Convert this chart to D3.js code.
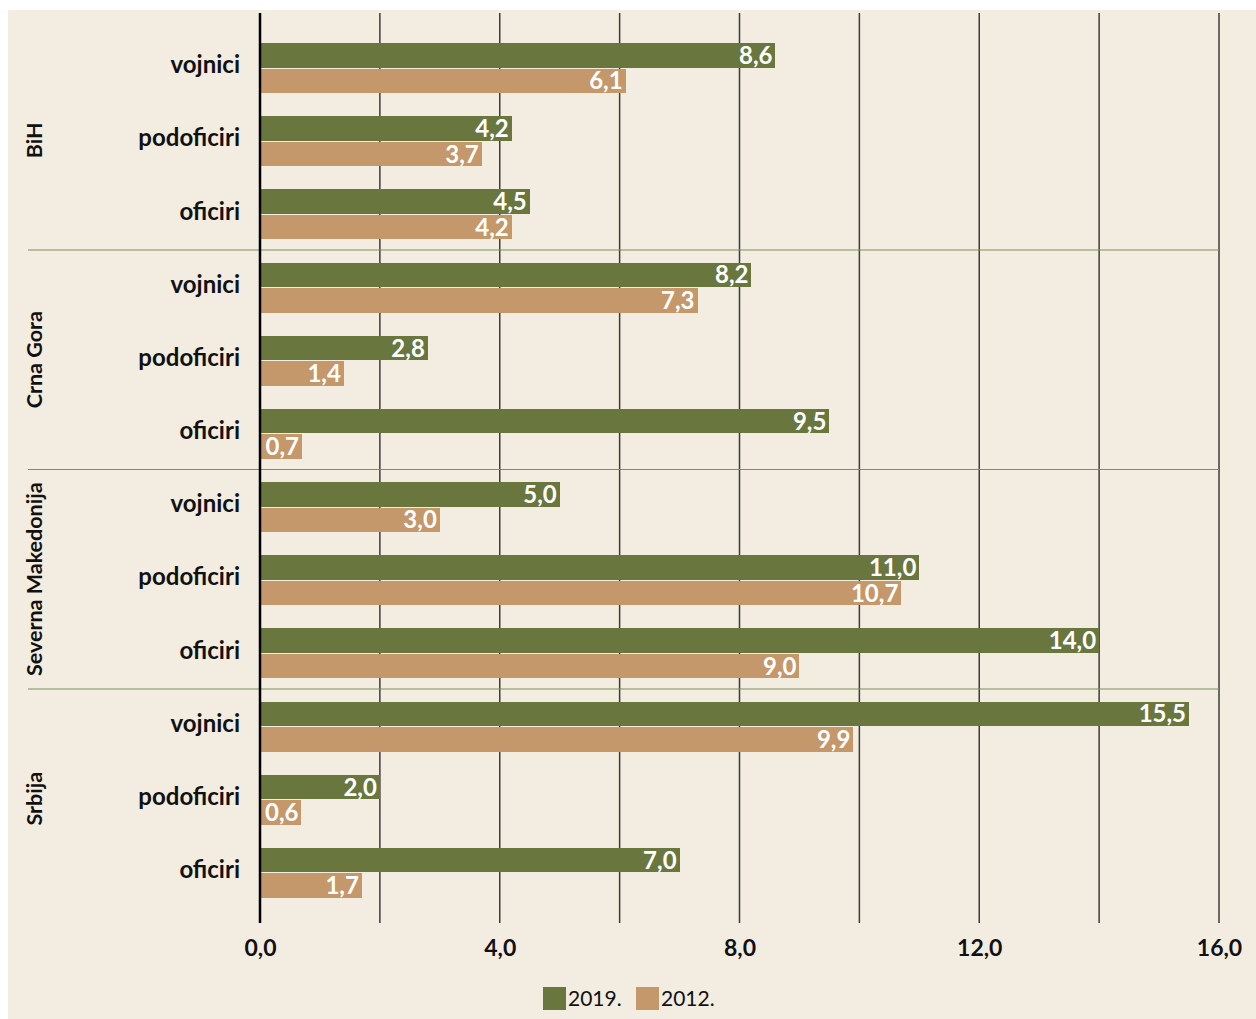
<!DOCTYPE html>
<html>
<head>
<meta charset="utf-8">
<script src="https://cdn.jsdelivr.net/npm/d3@7"></script>
<style>
  html, body { margin: 0; padding: 0; background: #ffffff; }
  svg { display: block; font-family: Lato, "Open Sans", sans-serif; }
  rect { shape-rendering: crispEdges; }
</style>
</head>
<body>
<div id="chart"></div>
<script>
// grupe (zemlje) i kategorije
var groups = ["BiH", "Crna Gora", "Severna Makedonija", "Srbija"];
var ranks = ["vojnici", "podoficiri", "oficiri"];
var seriesNames = ["2019.", "2012."];
var values2019 = [8.6, 4.2, 4.5, 8.2, 2.8, 9.5, 5.0, 11.0, 14.0, 15.5, 2.0, 7.0];
var values2012 = [6.1, 3.7, 4.2, 7.3, 1.4, 0.7, 3.0, 10.7, 9.0, 9.9, 0.6, 1.7];
var xTicks = [0, 4, 8, 12, 16];
var xGrid = [0, 2, 4, 6, 8, 10, 12, 14, 16];

var width = 1256, height = 1019;
var colors = ["#69773e", "#c4986a"];
var fmt = function (v) { return v.toFixed(1).replace(".", ","); };

var svg = d3.select("#chart").append("svg")
    .attr("width", width)
    .attr("height", height);

// pozadina
svg.append("rect")
    .attr("x", 8).attr("y", 10)
    .attr("width", width - 8).attr("height", height - 10)
    .attr("fill", "#f2ece1");

var rows = [];
groups.forEach(function (g, gi) {
    ranks.forEach(function (r, ri) {
        var i = gi * 3 + ri;
        rows.push({ key: g + "|" + r, group: g, rank: r, v: [values2019[i], values2012[i]] });
    });
});

var x = d3.scaleLinear().domain([0, 16]).range([260, 1219]);
var y = d3.scaleBand().domain(rows.map(d => d.key)).range([30.5, 908.5]);
var sub = d3.scaleBand().domain([0, 1]).range([12.6, y.bandwidth() - 10.6]).paddingInner(0.04);

// mreza
svg.selectAll("line.grid")
    .data(xGrid.slice(1))
    .enter().append("line")
    .attr("x1", d => x(d)).attr("x2", d => x(d))
    .attr("y1", 13).attr("y2", 923)
    .attr("stroke", "#3f3b38").attr("stroke-width", 1.5);

// linije izmedju grupa
svg.selectAll("line.sep")
    .data(groups.slice(1))
    .enter().append("line")
    .attr("x1", 28).attr("x2", x(16))
    .attr("y1", (d, i) => y(rows[(i + 1) * 3].key))
    .attr("y2", (d, i) => y(rows[(i + 1) * 3].key))
    .attr("stroke", "#7d8f5a").attr("stroke-width", 1.2);

// stupci
var rowG = svg.selectAll("g.row")
    .data(rows)
    .enter().append("g")
    .attr("transform", d => "translate(0," + y(d.key) + ")");

rowG.selectAll("rect.bar")
    .data(d => d.v)
    .enter().append("rect")
    .attr("x", x(0))
    .attr("y", (d, i) => sub(i))
    .attr("width", d => x(d) - x(0))
    .attr("height", sub.bandwidth())
    .attr("fill", (d, i) => colors[i]);

// oznake vrijednosti
rowG.each(function (d) {
    var g = d3.select(this);
    d.v.forEach(function (v, i) {
        var t = g.append("text")
            .attr("y", sub(i) + sub.bandwidth() / 2)
            .attr("dy", "0.36em")
            .attr("text-anchor", "end")
            .attr("fill", "#ffffff")
            .attr("font-weight", "bold")
            .attr("font-size", 24)
            .text(fmt(v));
        var w = t.node().getComputedTextLength();
        var right = Math.max(x(v), x(0) + w + 8);
        t.attr("x", right - 3);
        g.insert("rect", "text")
            .attr("x", right - w - 7)
            .attr("y", sub(i))
            .attr("width", w + 7)
            .attr("height", sub.bandwidth())
            .attr("fill", colors[i]);
    });
});

// kategorije
rowG.append("text")
    .attr("x", 240)
    .attr("y", y.bandwidth() / 2)
    .attr("dy", "0.26em")
    .attr("text-anchor", "end")
    .attr("font-weight", "bold")
    .attr("font-size", 24)
    .attr("fill", "#111")
    .text(d => d.rank);

// grupe
svg.selectAll("text.group")
    .data(groups)
    .enter().append("text")
    .attr("transform", (d, i) => {
        var cy = (y(rows[i * 3].key) + y(rows[i * 3 + 2].key) + y.bandwidth()) / 2;
        return "translate(42," + cy + ") rotate(-90)";
    })
    .attr("text-anchor", "middle")
    .attr("font-weight", "bold")
    .attr("font-size", 21.5)
    .attr("fill", "#111")
    .text(d => d);

// os
var axis = d3.axisBottom(x).tickValues(xTicks).tickSize(0).tickFormat(fmt);
var ax = svg.append("g").attr("transform", "translate(0,923)").call(axis);
ax.select(".domain").remove();
ax.selectAll("text")
    .attr("y", 25)
    .attr("dy", "0.35em")
    .attr("font-family", "Lato, 'Open Sans', sans-serif")
    .attr("font-weight", "bold")
    .attr("font-size", 23)
    .attr("fill", "#111");

svg.append("line")
    .attr("x1", x(0)).attr("x2", x(0))
    .attr("y1", 13).attr("y2", 923)
    .attr("stroke", "#000").attr("stroke-width", 2.5);

// legenda
var leg = svg.append("g").attr("transform", "translate(543,987)");
var lx = 0;
seriesNames.forEach(function (s, i) {
    leg.append("rect")
        .attr("x", lx).attr("y", 0)
        .attr("width", 23).attr("height", 23)
        .attr("fill", colors[i]);
    leg.append("text")
        .attr("x", lx + 25).attr("y", 11.5)
        .attr("dy", "0.36em")
        .attr("font-size", 21)
        .attr("fill", "#111")
        .text(s);
    lx += 93;
});
</script>
</body>
</html>
